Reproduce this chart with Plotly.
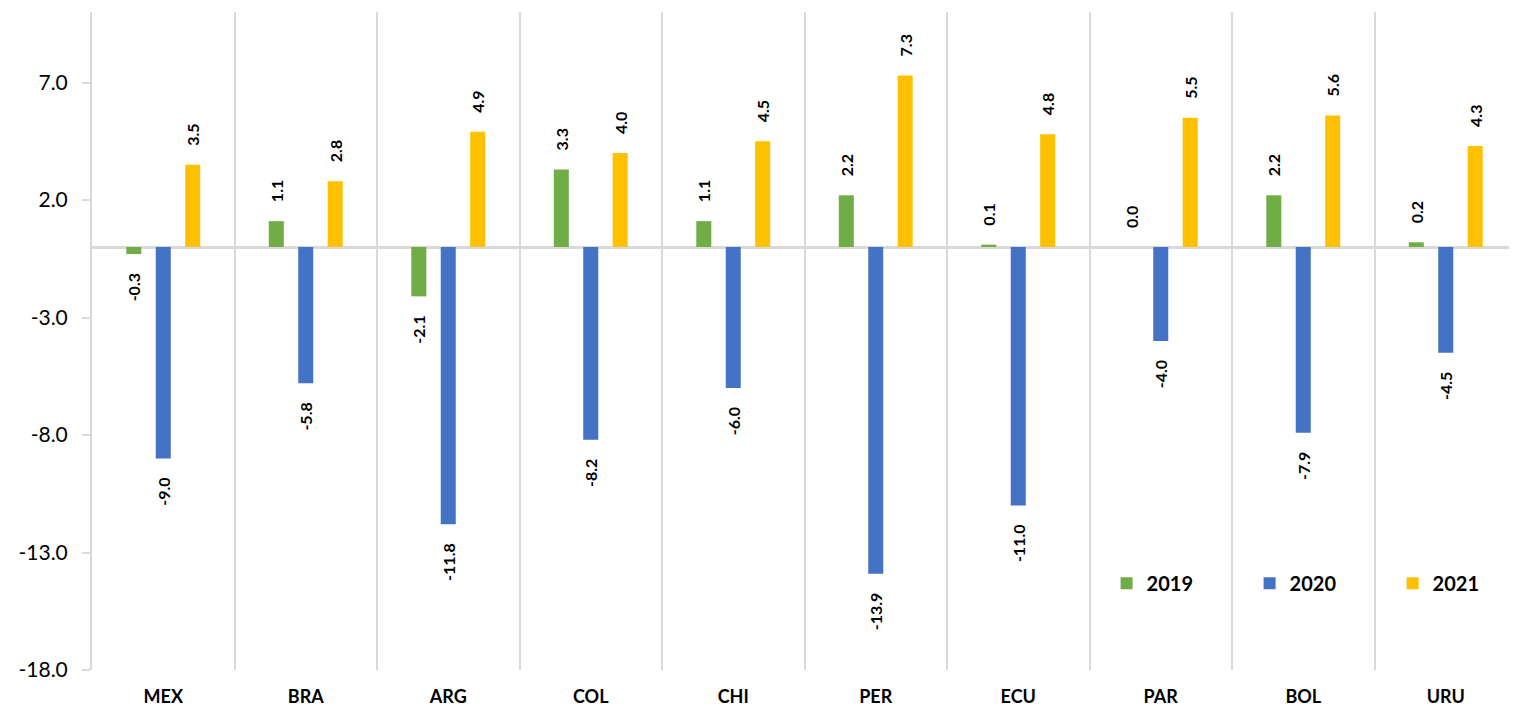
import plotly.graph_objects as go

countries = ["MEX", "BRA", "ARG", "COL", "CHI", "PER", "ECU", "PAR", "BOL", "URU"]
v2019 = [-0.3, 1.1, -2.1, 3.3, 1.1, 2.2, 0.1, 0.0, 2.2, 0.2]
v2020 = [-9.0, -5.8, -11.8, -8.2, -6.0, -13.9, -11.0, -4.0, -7.9, -4.5]
v2021 = [3.5, 2.8, 4.9, 4.0, 4.5, 7.3, 4.8, 5.5, 5.6, 4.3]
series = [("2019", v2019, "#70ad47"), ("2020", v2020, "#4472c4"), ("2021", v2021, "#ffc000")]
ytick_vals = [7, 2, -3, -8, -13, -18]

PAD = "\u2002\u2002"


def label(v):
    s = f"{v:.1f}"
    # padding keeps the rotated label away from the bar end, like the original
    return PAD + s if v >= 0 else s + PAD


FONT = "Lato"
fig = go.Figure()
for name, vals, col in series:
    fig.add_trace(go.Bar(
        x=countries, y=vals, name=name, marker=dict(color=col, line=dict(width=0)),
        text=[label(v) for v in vals], textposition="outside", textangle=-90,
        constraintext="none",
        textfont=dict(family=FONT, size=16, color="#000000", weight="bold"),
        cliponaxis=False,
    ))

fig.update_layout(
    width=1509, height=703,
    margin=dict(l=84, r=0, t=4, b=41, autoexpand=False),
    paper_bgcolor="white", plot_bgcolor="white",
    barmode="group", bargap=0.38, bargroupgap=0.49,
    font=dict(family=FONT, color="#000000"),
    legend=dict(orientation="h", x=0.712, y=0.132, xanchor="left", yanchor="middle",
                font=dict(family=FONT, size=20, color="#000000", weight="bold"),
                entrywidth=98, entrywidthmode="pixels", bgcolor="rgba(0,0,0,0)",
                itemwidth=30),
    showlegend=True,
)
fig.update_xaxes(
    type="category", tickson="boundaries", showgrid=True, gridcolor="#d9d9d9", gridwidth=2,
    ticks="", showline=False, ticklabelstandoff=14,
    tickfont=dict(family=FONT, size=18, color="#000000", weight="bold"),
)
fig.update_yaxes(
    range=[-18, 10], tickvals=ytick_vals, ticktext=[f"{v:.1f}" for v in ytick_vals],
    showgrid=False, zeroline=True, zerolinecolor="#d9d9d9", zerolinewidth=3,
    showline=True, linecolor="#d9d9d9", linewidth=2,
    ticks="outside", ticklen=8, tickcolor="#d9d9d9", tickwidth=2, ticklabelstandoff=10,
    tickfont=dict(family=FONT, size=21, color="#000000"),
)
fig.write_html("out.html")
